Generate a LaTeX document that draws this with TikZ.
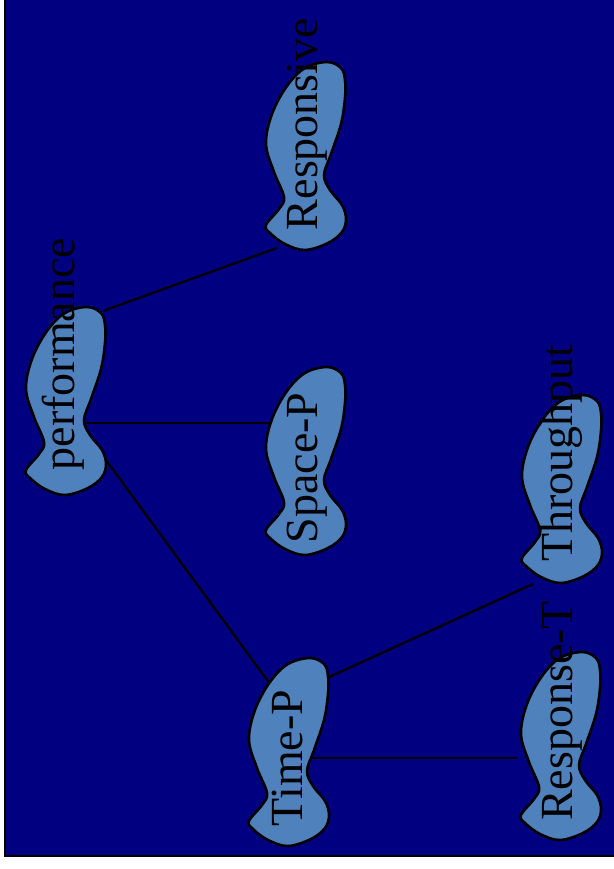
\documentclass[tikz,border=0pt]{standalone}
\usepackage{fontspec}
\setmainfont{Liberation Serif}
\definecolor{navybg}{RGB}{0,0,128}
\definecolor{blobblue}{RGB}{79,129,189}
\begin{document}
\begin{tikzpicture}[x=1pt,y=-1pt,
  blobstyle/.style={fill=blobblue,draw=black,line width=2.6pt,line join=round},
  conn/.style={draw=black,line width=2.3pt},
  lbl/.style={rotate=90,anchor=base,inner sep=0pt,text=black,font=\fontsize{46}{50}\selectfont},
  pics/blob/.style={code={
    \path[blobstyle] plot[smooth cycle,tension=0.6] coordinates {
      (62,0) (76,6) (80,18) (80,36) (76,62) (66,92) (59,113) (65,128) (77,143)
      (81,157) (77,170) (63,181) (40,188) (20,182) (5,171) (1,163) (14,147)
      (19,135) (9,110) (1,82) (7,52) (22,24) (40,6)};
  }}]
\useasboundingbox (0,0) rectangle (613,869);
\fill[white] (0,0) rectangle (613,869);
\fill[navybg] (5,-5) rectangle (620,856);
\draw[line width=2.4pt] (5,-5) -- (5,856) -- (620,856);

% connector end points
\coordinate (pR) at (103,311);
\coordinate (rL) at (277,248);
\coordinate (pS) at (85,423);
\coordinate (sL) at (275,423);
\coordinate (pT) at (106,460);
\coordinate (tTop) at (273,688);
\coordinate (tR) at (327,678);
\coordinate (thL) at (533,584);
\coordinate (tM) at (310,758);
\coordinate (rtL) at (517,758);

\draw[conn] (pR) -- (rL);
\draw[conn] (pS) -- (sL);
\draw[conn] (pT) -- (tTop);
\draw[conn] (tR) -- (thL);
\draw[conn] (tM) -- (rtL);

% blobs
\pic at (25,307) {blob};
\pic at (265,62) {blob};
\pic at (265,367) {blob};
\pic at (248,658) {blob};
\pic at (521,395) {blob};
\pic at (520,652) {blob};

% labels
\node[lbl] (perf) at (74,354) {performance};
\node[lbl] (resp) at (317,124) {Responsive};
\node[lbl] (space) at (317,468) {Space-P};
\node[lbl] (time) at (302,758) {Time-P};
\node[lbl] (thr) at (572,453) {Throughput};
\node[lbl] (rest) at (572,711) {Response-T};
\end{tikzpicture}
\end{document}
